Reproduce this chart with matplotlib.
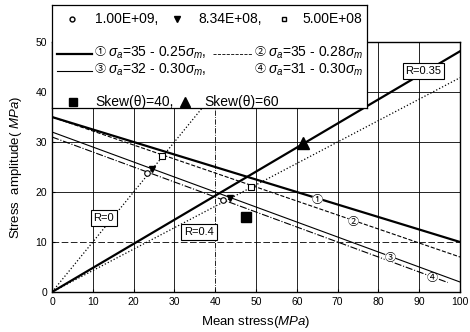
import numpy as np
import matplotlib.pyplot as plt
from matplotlib.lines import Line2D

plt.rcParams['font.family'] = ['Liberation Sans', 'DejaVu Sans']
plt.rcParams['mathtext.fontset'] = 'custom'
plt.rcParams['mathtext.rm'] = 'Liberation Sans'
plt.rcParams['mathtext.it'] = 'Liberation Sans:italic'

CIRC = ['Noto Sans CJK JP', 'DejaVu Sans']

# Goodman type lines: sigma_a = a - b * sigma_m
goodman_a = [35, 35, 32, 31]
goodman_b = [0.25, 0.28, 0.30, 0.30]
goodman_end = [100, 100, 100, 97]
goodman_tags = ["\u2460", "\u2461", "\u2462", "\u2463"]
goodman_tag_x = [65, 73.8, 82.8, 93.3]

# stress ratio lines
r_values = [0.0, 0.4, 0.35]
r_end = [50, 100, 100]
r_labels = ["R=0", "R=0.4", "R=0.35"]
r_label_pos = [(12.7, 14.8), (36, 12), (91, 44.2)]

# test points
circ_x = [23.3, 41.9]
circ_y = [23.8, 18.4]
tri_x = [24.5, 43.6]
tri_y = [24.6, 18.8]
sq_x = [27.0, 48.8]
sq_y = [27.2, 21.0]
skew40 = (47.5, 15.0)
skew60 = (61.5, 29.8)

fig = plt.figure(figsize=(4.7, 3.32), dpi=100)
ax = fig.add_axes([52 / 470, 40 / 332, 408 / 470, 250 / 332])

ax.set_xlim(0, 100)
ax.set_ylim(0, 50)
ax.set_xticks(range(0, 101, 10))
ax.set_yticks(range(0, 51, 10))
ax.tick_params(labelsize=7.5, length=2, direction='in')
for xv in range(10, 100, 10):
    ax.axvline(xv, color='black', lw=0.6, ls='-.' if xv == 40 else '-', zorder=0)
for yv in range(10, 50, 10):
    ax.axhline(yv, color='black', lw=0.6, ls=(0, (8, 3)) if yv == 10 else '-', zorder=0)
for s in ax.spines.values():
    s.set_linewidth(1.0)

styles = [dict(lw=1.6, ls='-'), dict(lw=0.8, ls='--'),
          dict(lw=0.8, ls='-'), dict(lw=0.8, ls='-.')]
for a, b, e, tag, tx, st in zip(goodman_a, goodman_b, goodman_end, goodman_tags, goodman_tag_x, styles):
    xs = np.array([0, e])
    ax.plot(xs, a - b * xs, color='black', **st)
    ax.text(tx, a - b * tx - 0.3, tag, fontsize=8, ha='center', va='center', family=CIRC,
            bbox=dict(boxstyle='circle,pad=0', fc='white', ec='none'))

r_styles = [dict(lw=0.9, ls=':'), dict(lw=0.9, ls=':'), dict(lw=1.6, ls='-')]
for r, e, lab, pos, st in zip(r_values, r_end, r_labels, r_label_pos, r_styles):
    k = (1 - r) / (1 + r)
    xs = np.array([0, e])
    ax.plot(xs, k * xs, color='black', **st)
    ax.text(pos[0], pos[1], lab, fontsize=8, ha='center', va='center',
            bbox=dict(boxstyle='square,pad=0.25', fc='white', ec='black', lw=0.8))

ax.plot(circ_x, circ_y, 'o', ms=4, mfc='white', mec='black', mew=0.8, ls='none')
ax.plot(tri_x, tri_y, 'v', ms=5, color='black', ls='none')
ax.plot(sq_x, sq_y, 's', ms=4, mfc='white', mec='black', mew=0.8, ls='none')
ax.plot(*skew40, 's', ms=7, color='black')
ax.plot(*skew60, '^', ms=8, color='black')

ax.set_xlabel('Mean stress($\\it{MPa}$)', fontsize=9.5, labelpad=5)
ax.set_ylabel('Stress  amplitude( $\\it{MPa}$)', fontsize=9.5, labelpad=8)

# legend box drawn by hand (irregular rows)
lg = fig.add_axes([52 / 470, 1 - 108 / 332, 315 / 470, 103 / 332])
lg.set_xlim(0, 315)
lg.set_ylim(103, 0)
lg.set_xticks([])
lg.set_yticks([])
for s in lg.spines.values():
    s.set_linewidth(0.9)
fs = 10
lg.plot(20, 14, 'o', ms=3.5, mfc='white', mec='black')
lg.text(43, 14, '1.00E+09,', fontsize=fs, va='center')
lg.plot(125, 14, 'v', ms=5, color='black')
lg.text(146, 14, '8.34E+08,', fontsize=fs, va='center')
lg.plot(232, 14, 's', ms=3.5, mfc='white', mec='black')
lg.text(250, 14, '5.00E+08', fontsize=fs, va='center')

lg.add_line(Line2D([5, 40], [49, 49], color='black', lw=1.6))
lg.text(48, 47, '\u2460', fontsize=8, va='center', ha='center', family=CIRC)
lg.text(56, 48, '$\\sigma_a$=35 - 0.25$\\sigma_m$,', fontsize=fs, va='center')
lg.add_line(Line2D([161, 200], [49, 49], color='black', lw=0.6, ls='--'))
lg.text(208, 47, '\u2461', fontsize=8, va='center', ha='center', family=CIRC)
lg.text(216, 48, '$\\sigma_a$=35 - 0.28$\\sigma_m$', fontsize=fs, va='center')
lg.add_line(Line2D([5, 40], [66, 66], color='black', lw=0.8))
lg.text(48, 64, '\u2462', fontsize=8, va='center', ha='center', family=CIRC)
lg.text(56, 65, '$\\sigma_a$=32 - 0.30$\\sigma_m$,', fontsize=fs, va='center')
lg.text(208, 64, '\u2463', fontsize=8, va='center', ha='center', family=CIRC)
lg.text(216, 65, '$\\sigma_a$=31 - 0.30$\\sigma_m$', fontsize=fs, va='center')

lg.plot(21, 97, 's', ms=6, color='black')
lg.text(43, 97, 'Skew(\u03b8)=40,', fontsize=fs, va='center')
lg.plot(133, 97, '^', ms=7, color='black')
lg.text(152, 97, 'Skew(\u03b8)=60', fontsize=fs, va='center')

fig.savefig('out.png', dpi=100)
